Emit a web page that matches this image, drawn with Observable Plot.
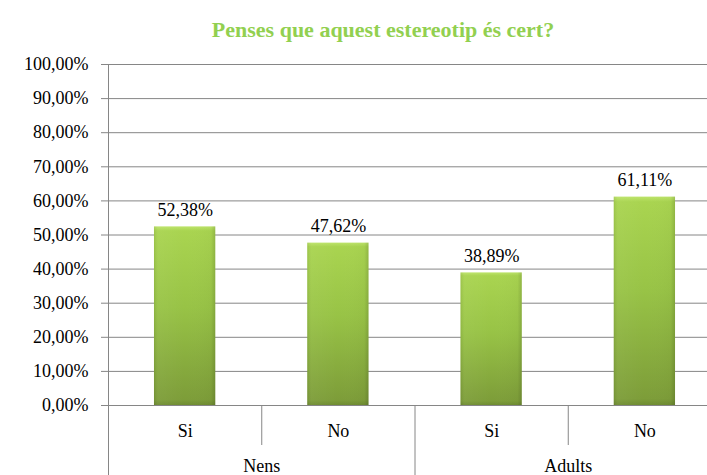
<!DOCTYPE html>
<html><head><meta charset="utf-8">
<script src="https://cdn.jsdelivr.net/npm/d3@7"></script>
<script src="https://cdn.jsdelivr.net/npm/@observablehq/plot@0.6"></script>
<style>
html,body{margin:0;padding:0;background:#fff;overflow:hidden;}
#wrap{position:relative;width:707px;height:475px;}
#title{position:absolute;top:17px;left:383px;transform:translateX(-50%);white-space:nowrap;
 font-family:"Liberation Serif","Times New Roman",serif;font-weight:bold;font-size:22px;color:#92D050;}
</style></head>
<body><div id="wrap"><div id="title">Penses que aquest estereotip és cert?</div></div>
<script>
const title = "Penses que aquest estereotip és cert?";
const groups = ["Nens", "Adults"];
const answers = ["Si", "No", "Si", "No"];
const barGroups = ["Nens", "Nens", "Adults", "Adults"];
const values = [52.38, 47.62, 38.89, 61.11];
const yTicks = [0, 10, 20, 30, 40, 50, 60, 70, 80, 90, 100];

const fmt = v => v.toFixed(2).replace(".", ",") + "%";
const data = values.map((v, i) => ({i, answer: answers[i], group: barGroups[i], value: v}));
const groupCenters = groups.map(g => ({g, x: d3.mean(data.filter(d => d.group === g), d => d.i + 0.5)}));
const innerBounds = d3.range(1, data.length).filter(b => barGroups[b] === barGroups[b - 1]);
const groupBounds = d3.range(0, data.length + 1).filter(b => b === 0 || b === data.length || barGroups[b] !== barGroups[b - 1]);

const font = "Liberation Serif";
const plot = Plot.plot({
  width: 707, height: 475,
  marginTop: 64, marginBottom: 70, marginLeft: 108, marginRight: 0,
  style: {fontSize: "18px", color: "#000", background: "#fff", fontFamily: font},
  x: {type: "linear", domain: [0, data.length], range: [108, 721], axis: null},
  y: {domain: [0, 100], axis: null},
  marks: [
    Plot.gridY(yTicks, {stroke: "#868686", strokeOpacity: 1, strokeWidth: 1}),
    Plot.axisY(yTicks, {label: null, tickSize: 7, tickPadding: 13, tickFormat: fmt, stroke: "#868686", fill: "#000", fontSize: 18, fontFamily: font}),
    Plot.ruleX([0], {y1: 0, y2: 100, stroke: "#868686"}),
    Plot.rectY(data, {x1: d => d.i + 0.3, x2: d => d.i + 0.7, y: "value", fill: "url(#barGrad)"}),
    Plot.rectY(data, {x1: d => d.i + 0.3, x2: d => d.i + 0.7, y: "value", fill: "url(#barShade)"}),
    Plot.text(data, {x: d => d.i + 0.5, y: "value", text: d => fmt(d.value), lineAnchor: "bottom", dy: -11, fontSize: 18, fill: "#000", fontFamily: font}),
    Plot.axisX(groupBounds, {label: null, tickSize: 70, tickFormat: () => "", stroke: "#868686"}),
    Plot.axisX(innerBounds, {label: null, tickSize: 40, tickFormat: () => "", stroke: "#868686"}),
    Plot.axisX(data.map(d => d.i + 0.5), {label: null, tickSize: 0, tickPadding: 19, tickFormat: x => answers[Math.floor(x)], fontSize: 18, fill: "#000", fontFamily: font}),
    Plot.axisX(groupCenters.map(d => d.x), {label: null, tickSize: 0, tickPadding: 54, tickFormat: x => groupCenters.find(d => d.x === x).g, fontSize: 18, fill: "#000", fontFamily: font})
  ]
});
const svg = d3.select(plot);
const defs = svg.insert("defs", ":first-child");
const g1 = defs.append("linearGradient").attr("id", "barGrad").attr("x1", 0).attr("y1", 0).attr("x2", 0).attr("y2", 1);
g1.append("stop").attr("offset", "0%").attr("stop-color", "#bde46a");
g1.append("stop").attr("offset", "2.5%").attr("stop-color", "#a9d450");
g1.append("stop").attr("offset", "45%").attr("stop-color", "#98c346");
g1.append("stop").attr("offset", "97%").attr("stop-color", "#7d9d39");
g1.append("stop").attr("offset", "100%").attr("stop-color", "#6f8c32");
const g2 = defs.append("linearGradient").attr("id", "barShade").attr("x1", 0).attr("y1", 0).attr("x2", 1).attr("y2", 0);
g2.append("stop").attr("offset", "0%").attr("stop-color", "#000000").attr("stop-opacity", 0.08);
g2.append("stop").attr("offset", "7%").attr("stop-color", "#ffffff").attr("stop-opacity", 0.04);
g2.append("stop").attr("offset", "50%").attr("stop-color", "#ffffff").attr("stop-opacity", 0);
g2.append("stop").attr("offset", "93%").attr("stop-color", "#000000").attr("stop-opacity", 0.02);
g2.append("stop").attr("offset", "100%").attr("stop-color", "#000000").attr("stop-opacity", 0.14);
document.getElementById("wrap").appendChild(plot);
</script>
</body></html>
